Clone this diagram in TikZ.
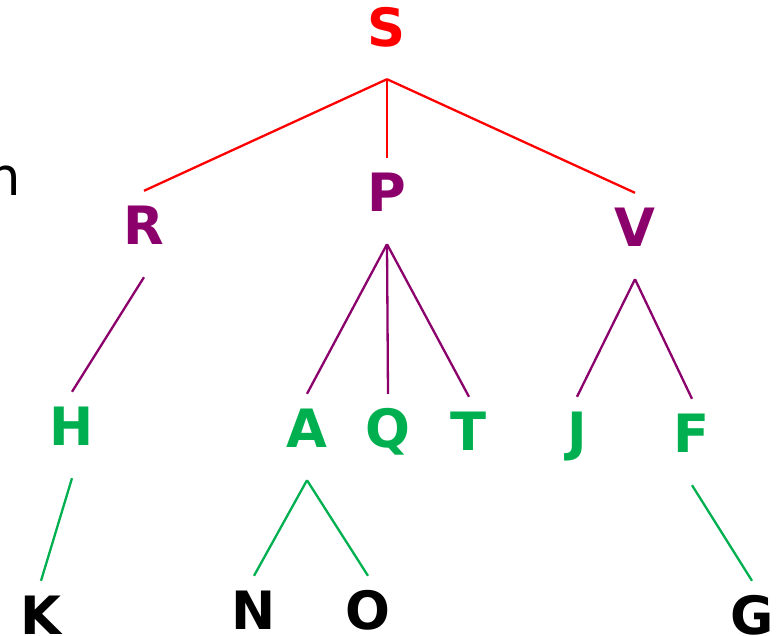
\documentclass[tikz,border=0pt]{standalone}
\usepackage{fontspec}
\setmainfont{DejaVu Sans}
\definecolor{rootred}{RGB}{255,0,0}
\definecolor{midpurple}{RGB}{139,0,107}
\definecolor{leafgreen}{RGB}{0,176,80}
\begin{document}
\begin{tikzpicture}[x=1pt,y=-1pt,
  letter/.style={font=\fontsize{52.8}{60}\selectfont\bfseries, anchor=base,
    text height=38.5pt, text depth=18.5pt, inner ysep=14.5pt, inner xsep=0pt},
  edge/.style={line width=2.3pt}]
\useasboundingbox (0,0) rectangle (777,635);
\clip (0,0) rectangle (777,635);

% level 0
\node[letter, text=rootred] (S) at (387,46) {S};
% level 1
\node[letter, text=midpurple] (R) at (144,244) {R};
\node[letter, text=midpurple] (P) at (387,211) {P};
\node[letter, text=midpurple] (V) at (635,246) {V};
% level 2
\node[letter, text=leafgreen] (H) at (72,445) {H};
\node[letter, text=leafgreen] (A) at (307,447) {A};
\node[letter, text=leafgreen] (Q) at (388,447) {Q};
\node[letter, text=leafgreen] (T) at (469,450) {T};
\node[letter, text=leafgreen] (J) at (577,450) {J};
\node[letter, text=leafgreen] (F) at (692,452) {F};
% level 3: no depth below, the box ends near the baseline
\node[letter, text depth=0pt, text=black] (K) at (41,634) {K};
\node[letter, text depth=0pt, text=black] (N) at (254,629) {N};
\node[letter, text depth=0pt, text=black] (O) at (368,629) {O};
\node[letter, text depth=0pt, text=black] (G) at (752,634) {G};

% partial word at the left edge
\node[font=\fontsize{52.8}{60}\selectfont, anchor=base west, inner sep=0pt] (w) at (-13,195) {n};

% branches
\draw[edge, rootred] (S.south) -- (R.north);
\draw[edge, rootred] (S.south) -- (P.north);
\draw[edge, rootred] (S.south) -- (V.north);
\draw[edge, midpurple] (R.south) -- (H.north);
\draw[edge, midpurple] (P.south) -- (A.north);
\draw[edge, midpurple] (P.south) -- (Q.north);
\draw[edge, midpurple] (P.south) -- (T.north);
\draw[edge, midpurple] (V.south) -- (J.north);
\draw[edge, midpurple] (V.south) -- (F.north);
\draw[edge, leafgreen] (H.south) -- (K.north);
\draw[edge, leafgreen] (A.south) -- (N.north);
\draw[edge, leafgreen] (A.south) -- (O.north);
\draw[edge, leafgreen] (F.south) -- (G.north);
\end{tikzpicture}
\end{document}
